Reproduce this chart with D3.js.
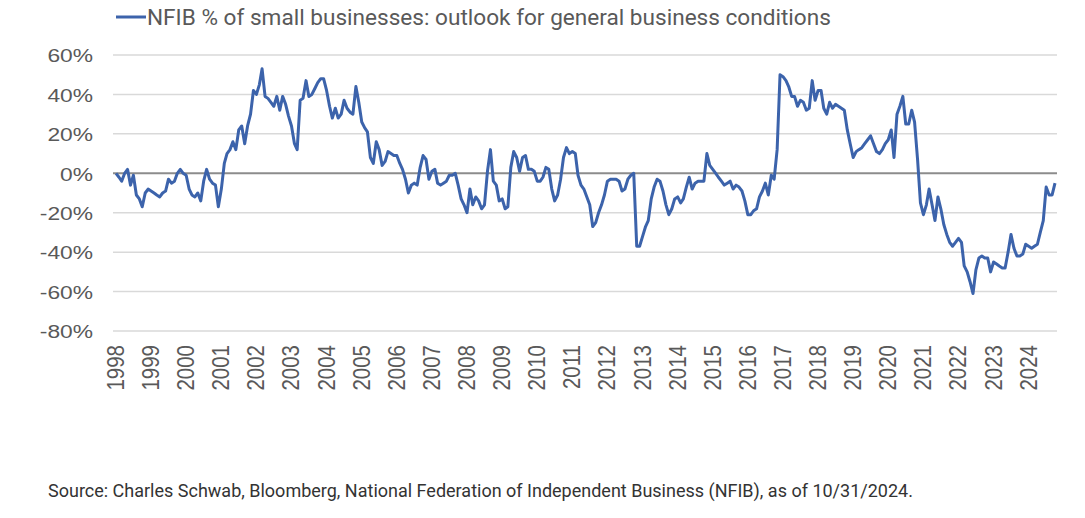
<!DOCTYPE html>
<html>
<head>
<meta charset="utf-8">
<script src="https://cdn.jsdelivr.net/npm/d3@7"></script>
<style>
  html, body { margin: 0; padding: 0; background: #ffffff; }
  svg { display: block; }
</style>
</head>
<body>
<svg id="chart" width="1085" height="518"></svg>
<script>
// ---- Data ----
const seriesName = "NFIB % of small businesses: outlook for general business conditions";
const startYear = 1998;   // first observation: Jan 1998, monthly through Oct 2024
const outlook = [
  // 1998
  0, -2, -4, 0, 2, -6, -1, -11, -13, -17, -10, -8,
  // 1999
  -9, -10, -11, -12, -10, -9, -3, -5, -4, 0, 2, 0,
  // 2000
  -1, -8, -11, -12, -10, -14, -4, 2, -3, -5, -6, -17,
  // 2001
  -8, 5, 10, 12, 16, 12, 22, 24, 15, 24, 30, 42,
  // 2002
  40, 45, 53, 39, 38, 36, 34, 39, 32, 39, 35, 29,
  // 2003
  24, 15, 12, 37, 38, 47, 39, 40, 43, 46, 48, 48,
  // 2004
  42, 34, 28, 33, 28, 30, 37, 33, 31, 30, 44, 36,
  // 2005
  26, 23, 21, 8, 5, 16, 12, 4, 6, 11, 10, 9,
  // 2006
  9, 5, 2, -3, -10, -6, -5, -6, 3, 9, 7, -3,
  // 2007
  1, 2, -5, -6, -5, -4, -1, -1, 0, -6, -13, -16,
  // 2008
  -20, -8, -16, -12, -14, -18, -16, 1, 12, -4, -6, -14,
  // 2009
  -13, -18, -17, 3, 11, 8, 1, 8, 9, 2, 2, 1,
  // 2010
  -4, -4, -2, 3, 2, -8, -14, -11, -3, 8, 13, 10,
  // 2011
  11, 10, -1, -6, -8, -12, -16, -27, -25, -20, -16, -11,
  // 2012
  -4, -3, -3, -3, -4, -9, -8, -3, -1, 0, -37, -37,
  // 2013
  -32, -27, -24, -13, -7, -3, -4, -9, -16, -21, -18, -13,
  // 2014
  -12, -15, -13, -7, -2, -8, -5, -4, -4, -4, 10, 4,
  // 2015
  2, 0, -2, -4, -6, -5, -4, -8, -6, -7, -9, -14,
  // 2016
  -21, -21, -19, -18, -12, -9, -5, -11, -1, -3, 12, 50,
  // 2017
  49, 47, 44, 39, 39, 34, 37, 36, 32, 33, 47, 37,
  // 2018
  42, 42, 33, 30, 36, 33, 35, 34, 33, 32, 22, 15,
  // 2019
  8, 11, 12, 13, 15, 17, 19, 15, 11, 10, 12, 15,
  // 2020
  17, 22, 8, 30, 34, 39, 25, 25, 32, 26, 7, -15,
  // 2021
  -21, -16, -8, -16, -24, -12, -18, -26, -31, -35, -37, -35,
  // 2022
  -33, -35, -47, -50, -55, -61, -49, -43, -42, -43, -43, -50,
  // 2023
  -45, -46, -47, -48, -48, -40, -31, -38, -42, -42, -41, -36,
  // 2024
  -37, -38, -37, -36, -30, -24, -7, -11, -11, -5
];
const yearTicks = d3.range(1998, 2025);           // x tick labels
const yTicks = [60, 40, 20, 0, -20, -40, -60, -80]; // y tick labels (%)
const sourceNote = "Source: Charles Schwab, Bloomberg, National Federation of Independent Business (NFIB), as of 10/31/2024.";

// ---- Build table ----
const data = outlook.map((v, i) => ({ date: new Date(startYear, i, 1), value: v }));

// ---- Layout ----
const svg = d3.select("#chart");
const gridLeft = 113, gridRight = 1057;
const lineLeft = 116, lineRight = 1055;
const yTop = 55, yBottom = 331;

const x = d3.scaleTime()
  .domain([data[0].date, data[data.length - 1].date])
  .range([lineLeft, lineRight]);
const y = d3.scaleLinear().domain([-80, 60]).range([yBottom, yTop]);

const axisFont = "'Liberation Sans', Arial, sans-serif";
const labelColor = "#595959";

// gridlines
svg.append("g").selectAll("line")
  .data(yTicks.filter(d => d !== 0))
  .join("line")
  .attr("x1", gridLeft).attr("x2", gridRight)
  .attr("y1", d => y(d)).attr("y2", d => y(d))
  .attr("stroke", "#d9d9d9").attr("stroke-width", 1.5);

// y axis labels
const yAxis = d3.axisLeft(y).tickValues(yTicks).tickSize(0).tickPadding(0)
  .tickFormat(d => d + "%");
const gy = svg.append("g").attr("transform", `translate(93,0)`).call(yAxis);
gy.select(".domain").remove();
gy.selectAll("text")
  .attr("font-family", axisFont).attr("font-size", 19)
  .attr("fill", labelColor).attr("x", 0).attr("dy", "0.36em")
  .attr("transform", "scale(1.2,1)");

// zero line
svg.append("line")
  .attr("x1", gridLeft).attr("x2", gridRight)
  .attr("y1", y(0)).attr("y2", y(0))
  .attr("stroke", "#8c8c8c").attr("stroke-width", 2);

// x axis labels (rotated)
const xAxis = d3.axisBottom(x)
  .tickValues(yearTicks.map(yr => new Date(yr, 0, 1)))
  .tickSize(0).tickPadding(0)
  .tickFormat(d3.timeFormat("%Y"));
const gx = svg.append("g").attr("transform", `translate(-1,345)`).call(xAxis);
gx.select(".domain").remove();
gx.selectAll("text")
  .attr("font-family", axisFont).attr("font-size", 20.5)
  .attr("fill", labelColor)
  .attr("text-anchor", "end")
  .attr("transform", "scale(1.15,1) rotate(-90)")
  .attr("x", 0).attr("y", 0).attr("dy", "0.36em");
// keep label centres on their ticks after the horizontal stretch
gx.selectAll(".tick").each(function() {
  const t = d3.select(this);
  const tx = +t.attr("transform").match(/translate\(([-\d.]+)/)[1];
  t.attr("transform", `translate(${tx},0)`);
});

// series line
const line = d3.line().x(d => x(d.date)).y(d => y(d.value)).curve(d3.curveLinear);
svg.append("path")
  .datum(data)
  .attr("d", line)
  .attr("fill", "none")
  .attr("stroke", "#3c63ab")
  .attr("stroke-width", 3)
  .attr("stroke-linejoin", "round");

// legend
svg.append("line")
  .attr("x1", 116).attr("x2", 146).attr("y1", 17).attr("y2", 17)
  .attr("stroke", "#3c63ab").attr("stroke-width", 3);
svg.append("text")
  .attr("x", 147).attr("y", 25)
  .attr("font-family", "Roboto, 'Liberation Sans', sans-serif")
  .attr("font-size", 22.6)
  .attr("fill", labelColor)
  .text(seriesName);

// source
svg.append("text")
  .attr("x", 48).attr("y", 497)
  .attr("font-family", "Roboto, 'Liberation Sans', sans-serif")
  .attr("font-size", 18)
  .attr("fill", "#333333")
  .text(sourceNote);
</script>
</body>
</html>
